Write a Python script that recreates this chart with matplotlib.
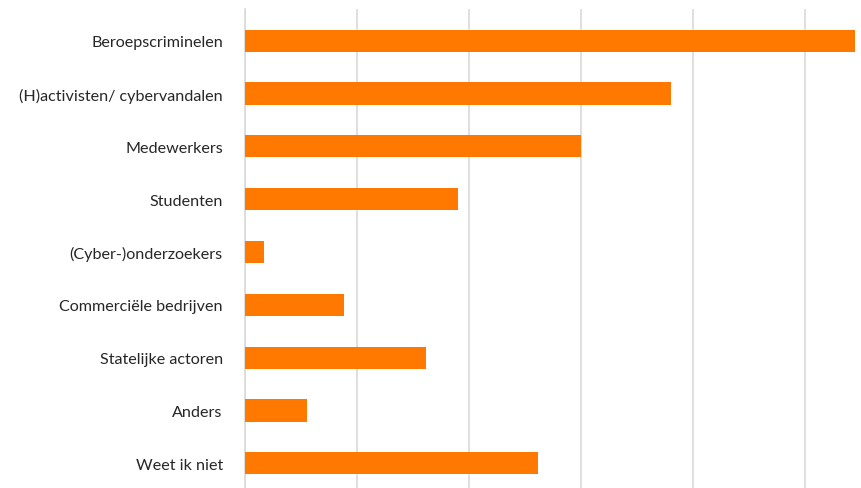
import matplotlib.pyplot as plt
import matplotlib as mpl

mpl.rcParams['font.family'] = ['Lato', 'DejaVu Sans']

categories = ['Beroepscriminelen', '(H)activisten/ cybervandalen', 'Medewerkers',
              'Studenten', '(Cyber-)onderzoekers', 'Commerciële bedrijven',
              'Statelijke actoren', 'Anders', 'Weet ik niet']
values = [54.5, 38.0, 30.0, 19.0, 1.7, 8.8, 16.2, 5.5, 26.2]

bar_color = '#FF7900'
grid_color = '#D9D9D9'

fig = plt.figure(figsize=(8.61, 4.89), dpi=100)
ax = fig.add_axes([245 / 861, -7 / 489, 672 / 861, 486 / 489])

ypos = list(range(len(categories)))
ax.barh(ypos, values, height=0.42, color=bar_color, zorder=3)

ax.set_xlim(0, 60)
ax.set_ylim(len(categories) - 0.4, -0.6)
ax.set_xticks([0, 10, 20, 30, 40, 50, 60])
ax.xaxis.grid(True, color=grid_color, linewidth=1.2, zorder=0)
ax.tick_params(axis='x', length=0, labelbottom=False)

ax.set_yticks(ypos)
ax.set_yticklabels(categories, fontsize=11.6, color='#262626')
ax.tick_params(axis='y', length=0, pad=16)

for s in ['top', 'right', 'bottom']:
    ax.spines[s].set_visible(False)
ax.spines['left'].set_color(grid_color)
ax.spines['left'].set_linewidth(1.2)

fig.savefig('out.png', dpi=100)
